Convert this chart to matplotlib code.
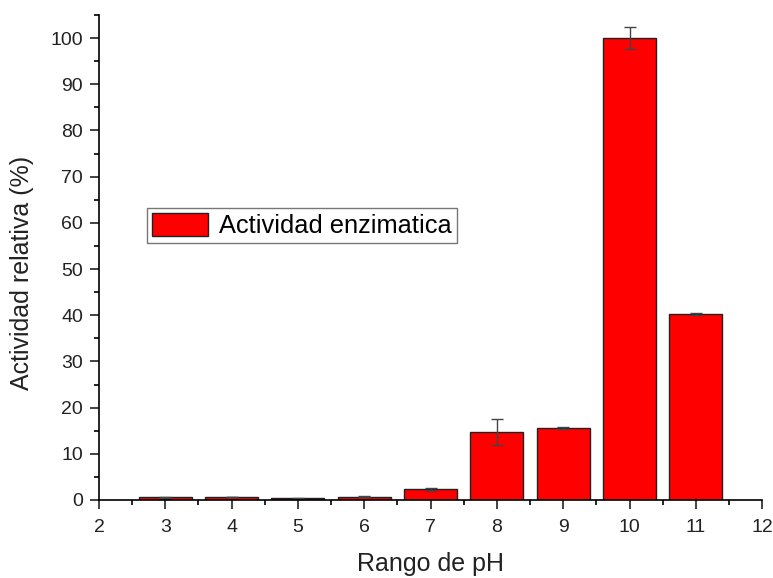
import matplotlib
matplotlib.use("Agg")
import matplotlib.pyplot as plt
from matplotlib.ticker import MultipleLocator

plt.rcParams['font.family'] = ['Liberation Sans', 'DejaVu Sans']

ph = [3, 4, 5, 6, 7, 8, 9, 10, 11]
actividad = [0.55, 0.6, 0.35, 0.75, 2.3, 14.8, 15.5, 100.0, 40.2]
error = [0.05, 0.05, 0.05, 0.1, 0.35, 2.8, 0.2, 2.4, 0.25]

fig = plt.figure(figsize=(7.73, 5.78), dpi=100)
ax = fig.add_axes([0.128, 0.135, 0.858, 0.839])

bars = ax.bar(ph, actividad, width=0.8, color='#ff0000', edgecolor='#222222',
              linewidth=1.0, yerr=error, capsize=4,
              error_kw=dict(ecolor='#444444', elinewidth=1.0, capthick=1.0),
              label='Actividad enzimatica', zorder=2)

ax.set_xlim(2, 12)
ax.set_ylim(0, 105)
ax.xaxis.set_major_locator(MultipleLocator(1))
ax.xaxis.set_minor_locator(MultipleLocator(0.5))
ax.yaxis.set_major_locator(MultipleLocator(10))
ax.yaxis.set_minor_locator(MultipleLocator(5))
ax.tick_params(which='major', direction='out', length=6.5, width=1.2, labelsize=14,
               colors='#222222', pad=5)
ax.tick_params(axis='x', which='major', pad=7)
ax.tick_params(which='minor', direction='out', length=3.5, width=1.2)

ax.spines['top'].set_visible(False)
ax.spines['right'].set_visible(False)
ax.spines['left'].set_linewidth(1.2)
ax.spines['bottom'].set_linewidth(1.2)

ax.set_xlabel('Rango de pH', fontsize=18, color='#222222', labelpad=12)
ax.set_ylabel('Actividad relativa (%)', fontsize=18, color='#222222')
ax.yaxis.set_label_coords(-0.098, 0.468)

leg = ax.legend(loc='upper left', bbox_to_anchor=(0.072, 0.602), borderaxespad=0,
                fontsize=18.3, frameon=True, fancybox=False, edgecolor='#555555',
                handlelength=2.2, handleheight=1.0, handletextpad=0.45, borderpad=0.2)
leg.get_frame().set_linewidth(1.0)

fig.savefig('out.png', dpi=100)
